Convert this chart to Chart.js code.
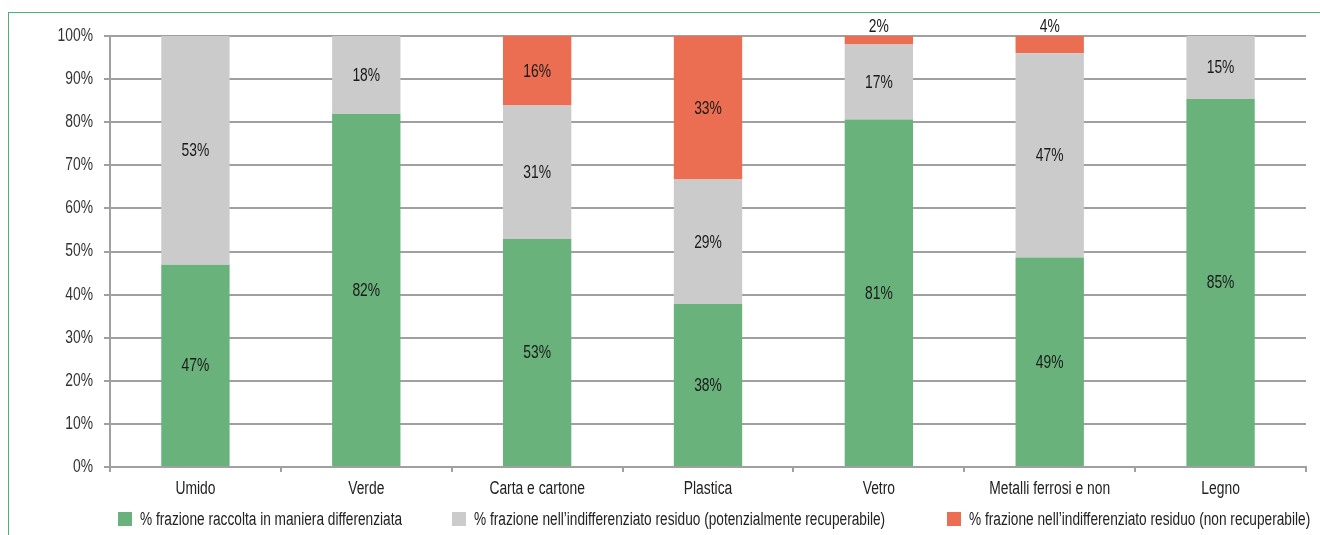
<!DOCTYPE html>
<html><head><meta charset="utf-8">
<script src="https://cdn.jsdelivr.net/npm/chart.js@4.4.1/dist/chart.umd.min.js"></script>
<style>
html,body{margin:0;padding:0;background:#fff;}
#wrap{position:relative;width:1320px;height:535px;overflow:hidden;}
#frame{position:absolute;left:8px;top:12px;width:1330px;height:540px;border-left:1.5px solid #4fb07c;border-top:1.5px solid #4fb07c;box-sizing:border-box;}
canvas{position:absolute;left:0;top:0;}
.leg{position:absolute;top:509px;height:20px;}
.leg i{position:absolute;left:0;top:3px;width:14px;height:14px;}
.leg span{position:absolute;left:22px;top:0;font-family:"Liberation Sans",Arial,sans-serif;font-size:18px;line-height:20px;color:#222;white-space:nowrap;transform:scaleX(0.76);transform-origin:0 0;}
</style></head>
<body><div id="wrap"><div id="frame"></div><canvas id="c" width="1320" height="535"></canvas></div>
<script>
const categories = ["Umido","Verde","Carta e cartone","Plastica","Vetro","Metalli ferrosi e non","Legno"];
const differenziata = [46.9, 81.9, 52.9, 37.8, 80.6, 48.6, 85.4];
const recuperabile = [53.1, 18.1, 31.0, 28.9, 17.4, 47.4, 14.6];
const nonRecuperabile = [0, 0, 16.1, 33.3, 2.0, 4.0, 0];
const seriesNames = ["% frazione raccolta in maniera differenziata","% frazione nell’indifferenziato residuo (potenzialmente recuperabile)","% frazione nell’indifferenziato residuo (non recuperabile)"];
const seriesColors = ["#6ab27b","#cbcbcb","#eb6e52"];
const yTicks = [0,10,20,30,40,50,60,70,80,90,100];

const FONT = '"Liberation Sans",Arial,sans-serif';
const SX = 0.77;

function condText(ctx, txt, x, y, align){
  ctx.save();
  ctx.translate(x, y);
  ctx.scale(SX, 1);
  ctx.textAlign = align;
  ctx.fillText(txt, 0, 0);
  ctx.restore();
}

const textPlugin = {
  id:'condensedText',
  afterDraw(chart){
    const ctx = chart.ctx;
    ctx.save();
    ctx.font = '18px ' + FONT;
    ctx.textBaseline = 'middle';
    ctx.fillStyle = '#1a1a1a';
    chart.data.datasets.forEach((ds, di) => {
      const meta = chart.getDatasetMeta(di);
      meta.data.forEach((bar, i) => {
        const v = ds.data[i];
        if (!v) return;
        const h = Math.abs(bar.base - bar.y);
        const txt = Math.round(v) + '%';
        if (h < 22) condText(ctx, txt, bar.x, bar.y - 9, 'center');
        else condText(ctx, txt, bar.x, (bar.y + bar.base) / 2 + 1, 'center');
      });
    });
    const ys = chart.scales.y;
    ctx.fillStyle = '#333';
    ys.ticks.forEach(t => {
      condText(ctx, t.value + '%', ys.right - 17, ys.getPixelForValue(t.value), 'right');
    });
    const xs = chart.scales.x;
    ctx.fillStyle = '#222';
    chart.data.labels.forEach((l, i) => {
      condText(ctx, l, xs.getPixelForTick(i), xs.top + 22, 'center');
    });
    ctx.restore();
  }
};

new Chart(document.getElementById('c'), {
  type:'bar',
  data:{
    labels:categories,
    datasets:[
      {label:seriesNames[0], data:differenziata, backgroundColor:seriesColors[0]},
      {label:seriesNames[1], data:recuperabile, backgroundColor:seriesColors[1]},
      {label:seriesNames[2], data:nonRecuperabile, backgroundColor:seriesColors[2]}
    ].map(d => Object.assign(d, {categoryPercentage:1, barPercentage:0.4, borderWidth:0}))
  },
  options:{
    responsive:false, animation:false,
    layout:{padding:{top:36,right:14,left:0,bottom:0}},
    plugins:{legend:{display:false}, tooltip:{enabled:false}},
    scales:{
      x:{
        stacked:true,
        afterFit(s){ s.height = 68; },
        grid:{offset:true, drawOnChartArea:false, drawTicks:true, tickLength:5, color:'#a0a0a0', lineWidth:2},
        border:{color:'#a0a0a0', width:2},
        ticks:{autoSkip:false, maxRotation:0, color:'rgba(0,0,0,0)', font:{size:12}}
      },
      y:{
        stacked:true, min:0, max:100,
        afterFit(s){ s.width = 110; },
        afterBuildTicks(s){ s.ticks = yTicks.map(v => ({value:v})); },
        grid:{color:'#a0a0a0', lineWidth:2, tickLength:6},
        border:{color:'#a0a0a0', width:2},
        ticks:{color:'rgba(0,0,0,0)', font:{size:12}, callback:v => v + '%'}
      }
    }
  },
  plugins:[textPlugin]
});

const wrap = document.getElementById('wrap');
const legX = [118, 452, 947];
seriesNames.forEach((n, i) => {
  const d = document.createElement('div');
  d.className = 'leg';
  d.style.left = legX[i] + 'px';
  d.innerHTML = '<i style="background:' + seriesColors[i] + '"></i><span>' + n + '</span>';
  wrap.appendChild(d);
});
</script></body></html>
